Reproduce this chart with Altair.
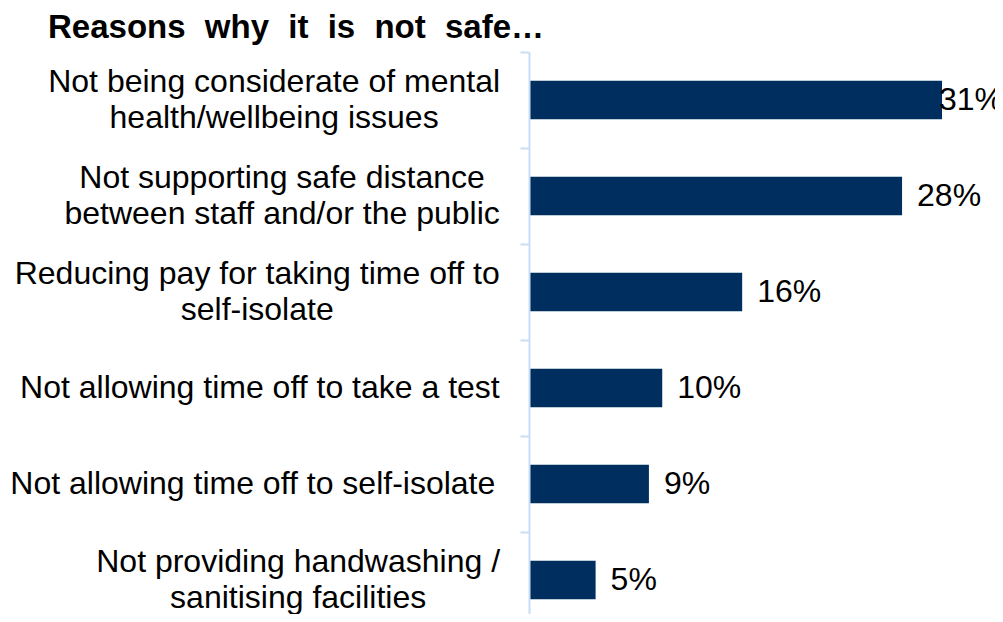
import altair as alt
import pandas as pd

# ---- data ----
categories = [
    "Not being considerate of mental\nhealth/wellbeing issues",
    "Not supporting safe distance\nbetween staff and/or the public",
    "Reducing pay for taking time off to\nself-isolate",
    "Not allowing time off to take a test",
    "Not allowing time off to self-isolate ",
    "Not providing handwashing /\nsanitising facilities",
]
values = [31, 28, 16, 10, 9, 5]
value_labels = ["31%", "28%", "16%", "10%", "9%", "5%"]
title_words = ["Reasons", "why", "it", "is", "not", "safe\u2026"]
title_text = "\u2002\u200a".join(title_words)

# ---- style ----
FONT = "Liberation Sans, Arial, sans-serif"
NAVY = "#002F5F"
AXIS_BLUE = "#C6DDF4"
LABEL_SIZE = 32
LINE_H = 36
STEP = 96

# Arial / Liberation Sans advance widths (per 1000 em) used to centre label blocks
ARIAL = {' ': 278, '/': 278, '-': 333, 'N': 722, 'R': 722,
         'a': 556, 'b': 556, 'c': 500, 'd': 556, 'e': 556, 'f': 278, 'g': 556,
         'h': 556, 'i': 222, 'j': 222, 'k': 500, 'l': 222, 'm': 833, 'n': 556,
         'o': 556, 'p': 556, 'q': 556, 'r': 333, 's': 500, 't': 278, 'u': 556,
         'v': 500, 'w': 722, 'x': 500, 'y': 500, 'z': 500}


def text_width(s, size):
    return sum(ARIAL.get(ch, 556) for ch in s) / 1000 * size


df = pd.DataFrame({"reason": categories, "value": values, "label": value_labels})
# label block: right edge 29px left of the axis, lines centred within the block
df["label_x"] = [
    -29 - max(text_width(line, LABEL_SIZE) for line in c.split("\n")) / 2
    for c in categories
]

n = len(categories)
y_scale = alt.Scale(paddingInner=0, paddingOuter=0, range=[0, STEP * n])

y_enc = alt.Y(
    "reason:N",
    sort=categories,
    scale=y_scale,
    axis=alt.Axis(
        labels=False, title=None, domainColor=AXIS_BLUE, domainWidth=2,
        tickColor=AXIS_BLUE, tickWidth=2, tickSize=9, tickBand="extent",
        grid=False, zindex=1,
    ),
)
y_plain = alt.Y("reason:N", sort=categories)
x_enc = alt.X("value:Q", scale=alt.Scale(domain=[0, 34], nice=False, zero=True), axis=None)

base = alt.Chart(df)

bars = base.mark_bar(color=NAVY, height=alt.RelativeBandSize(0.4)).encode(x=x_enc, y=y_enc)

vals_small = base.transform_filter("datum.value < 30").mark_text(
    align="left", baseline="middle", dx=15, fontSize=LABEL_SIZE, font=FONT, color="black"
).encode(x="value:Q", y=y_plain, text="label:N")

# the longest bar's label is squeezed against the right edge, as in the original
vals_big = base.transform_filter("datum.value >= 30").mark_text(
    align="left", baseline="middle", dx=-3, fontSize=LABEL_SIZE, font=FONT, color="black"
).encode(x="value:Q", y=y_plain, text="label:N")

label_props = dict(
    align="center", baseline="middle", lineBreak="\n", lineHeight=LINE_H,
    fontSize=LABEL_SIZE, font=FONT, color="black",
)
label_enc = dict(x=alt.X("label_x:Q", scale=None), y=y_plain, text="reason:N")

labels_two = base.transform_filter("indexof(datum.reason, '\\n') >= 0").mark_text(
    dy=-LINE_H / 2, **label_props
).encode(**label_enc)

labels_one = base.transform_filter("indexof(datum.reason, '\\n') < 0").mark_text(
    **label_props
).encode(**label_enc)

chart = alt.layer(bars, vals_small, vals_big, labels_two, labels_one).properties(
    width=453,
    height=562,
    padding={"left": 521, "top": 44, "right": 13, "bottom": 0},
    autosize=alt.AutoSizeParams(type="none"),
    title=alt.Title(
        title_text, anchor="start", frame="group", dx=-481, offset=6,
        fontSize=33, fontWeight="bold", font=FONT, color="black",
    ),
).configure_view(stroke=None)

chart.save("out.html", embed_options={"renderer": "svg", "actions": False})
